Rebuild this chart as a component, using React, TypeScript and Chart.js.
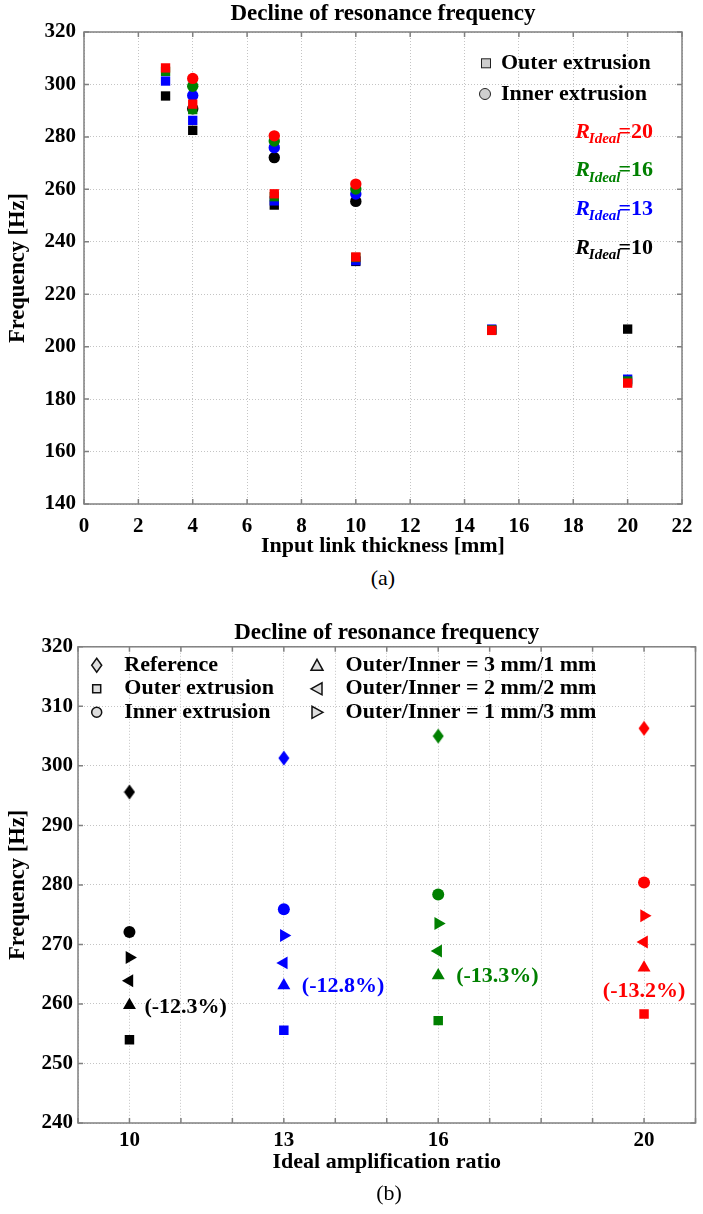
import React, { useEffect, useRef } from 'react';
import { Chart, registerables } from 'chart.js';

Chart.register(...registerables);

const FONT = "'Liberation Serif', 'Times New Roman', Times, serif";
const RED = '#ff0000';
const GREEN = '#008000';
const BLUE = '#0000ff';
const BLACK = '#000000';

// ---------------- (a) data ----------------
const thicknessOuter = [3, 4, 7, 10, 15, 20];
const thicknessInner = [4, 7, 10];
const outerR20 = [306.3, 292.5, 258.3, 234.2, 206.2, 186.1];
const outerR16 = [305.0, 290.4, 257.2, 234.0, 206.4, 186.9];
const outerR13 = [301.3, 286.3, 255.6, 232.8, 206.7, 187.6];
const outerR10 = [295.6, 282.5, 254.0, 232.5, 206.3, 206.7];
const innerR20 = [302.3, 280.4, 262.0];
const innerR16 = [299.3, 278.4, 260.1];
const innerR13 = [295.8, 275.9, 258.2];
const innerR10 = [290.7, 272.1, 255.4];
const ratioLabelsA = ['20', '16', '13', '10'];
const aXMin = 0;
const aXMax = 22;
const aXStep = 2;
const aYMin = 140;
const aYMax = 320;
const aYStep = 20;

// ---------------- (b) data ----------------
const idealRatios = [10, 13, 16, 20];
const xTickLabelsB = [10, 13, 16, 20];
const referenceB = [295.6, 301.3, 305.0, 306.3];
const outerB = [254.0, 255.6, 257.2, 258.3];
const innerB = [272.1, 275.9, 278.4, 280.4];
const oi31B = [259.8, 263.1, 264.8, 266.1];
const oi22B = [263.9, 266.9, 268.9, 270.4];
const oi13B = [267.8, 271.5, 273.5, 274.8];
const declineLabels = ['(-12.3%)', '(-12.8%)', '(-13.3%)', '(-13.2%)'];
const declineLabelLevel = [259.5, 262.9, 264.6, 262.1];
const bXMin = 9;
const bXMax = 21;
const bYMin = 240;
const bYMax = 320;
const bYStep = 10;
const legendB = [
  ['Reference', 'Outer extrusion', 'Inner extrusion'],
  ['Outer/Inner = 3 mm/1 mm', 'Outer/Inner = 2 mm/2 mm', 'Outer/Inner = 1 mm/3 mm'],
];

const colorsA = [RED, GREEN, BLUE, BLACK];
const colorsB = [BLACK, BLUE, GREEN, RED];

const TITLE = 'Decline of resonance frequency';

function font(size: number, weight = 'bold', style = 'normal') {
  return { family: FONT, size, weight, style } as any;
}

function frameTicksPlugin(tl: number) {
  return {
    id: 'frameTicks',
    afterDraw(chart: any) {
      const { ctx, chartArea: a, scales } = chart;
      ctx.save();
      ctx.strokeStyle = '#808080';
      ctx.lineWidth = 1.5;
      ctx.beginPath();
      scales.x.ticks.forEach((t: any) => {
        const px = scales.x.getPixelForValue(t.value);
        ctx.moveTo(px, a.bottom);
        ctx.lineTo(px, a.bottom - tl);
        ctx.moveTo(px, a.top);
        ctx.lineTo(px, a.top + tl);
      });
      scales.y.ticks.forEach((t: any) => {
        const py = scales.y.getPixelForValue(t.value);
        ctx.moveTo(a.left, py);
        ctx.lineTo(a.left + tl, py);
        ctx.moveTo(a.right, py);
        ctx.lineTo(a.right - tl, py);
      });
      ctx.stroke();
      ctx.strokeRect(a.left, a.top, a.right - a.left, a.bottom - a.top);
      ctx.restore();
    },
  };
}

function drawRIdeal(ctx: CanvasRenderingContext2D, rightX: number, y: number, value: string, color: string) {
  const big = `italic bold 22px ${FONT}`;
  const small = `italic bold 15px ${FONT}`;
  const norm = `bold 22px ${FONT}`;
  ctx.font = big;
  const wR = ctx.measureText('R').width;
  ctx.font = small;
  const wI = ctx.measureText('Ideal').width;
  ctx.font = norm;
  const wE = ctx.measureText('=' + value).width;
  let x = rightX - (wR + wI + wE - 3);
  ctx.fillStyle = color;
  ctx.textBaseline = 'middle';
  ctx.textAlign = 'left';
  ctx.font = big;
  ctx.fillText('R', x, y);
  x += wR - 1;
  ctx.font = small;
  ctx.fillText('Ideal', x, y + 7);
  x += wI - 2;
  ctx.font = norm;
  ctx.fillText('=' + value, x, y);
}

const legendAPlugin = {
  id: 'legendA',
  afterDraw(chart: any) {
    const { ctx, chartArea: a } = chart;
    ctx.save();
    const sx = a.right - 196;
    const y1 = a.top + 31.3;
    const y2 = a.top + 62;
    ctx.fillStyle = '#cfcfcf';
    ctx.strokeStyle = '#222';
    ctx.lineWidth = 1;
    ctx.fillRect(sx - 4.5, y1 - 4.5, 9, 9);
    ctx.strokeRect(sx - 4.5, y1 - 4.5, 9, 9);
    ctx.beginPath();
    ctx.arc(sx - 1, y2, 5.5, 0, Math.PI * 2);
    ctx.fill();
    ctx.stroke();
    ctx.fillStyle = '#000';
    ctx.font = `bold 22px ${FONT}`;
    ctx.textBaseline = 'middle';
    ctx.textAlign = 'left';
    ctx.fillText('Outer extrusion', sx + 15, y1);
    ctx.fillText('Inner extrusion', sx + 15, y2);
    ratioLabelsA.forEach((r, i) => {
      drawRIdeal(ctx, a.right - 29, a.top + 100 + i * 38.8, r, colorsA[i]);
    });
    ctx.restore();
  },
};

function legendShape(ctx: CanvasRenderingContext2D, kind: string, x: number, y: number) {
  ctx.beginPath();
  if (kind === 'diamond') {
    ctx.moveTo(x, y - 7);
    ctx.lineTo(x + 5, y);
    ctx.lineTo(x, y + 7);
    ctx.lineTo(x - 5, y);
    ctx.closePath();
  } else if (kind === 'square') {
    ctx.rect(x - 4, y - 4, 8, 8);
  } else if (kind === 'circle') {
    ctx.arc(x, y, 5, 0, Math.PI * 2);
  } else if (kind === 'up') {
    ctx.moveTo(x, y - 6);
    ctx.lineTo(x + 6, y + 5);
    ctx.lineTo(x - 6, y + 5);
    ctx.closePath();
  } else if (kind === 'left') {
    ctx.moveTo(x - 6, y);
    ctx.lineTo(x + 5, y - 6);
    ctx.lineTo(x + 5, y + 6);
    ctx.closePath();
  } else {
    ctx.moveTo(x + 6, y);
    ctx.lineTo(x - 5, y - 6);
    ctx.lineTo(x - 5, y + 6);
    ctx.closePath();
  }
  ctx.fill();
  ctx.stroke();
}

const legendBPlugin = {
  id: 'legendB',
  afterDraw(chart: any) {
    const { ctx, chartArea: a } = chart;
    ctx.save();
    const kinds = [
      ['diamond', 'square', 'circle'],
      ['up', 'left', 'right'],
    ];
    const symX = [a.left + 18.7, a.left + 239];
    const txtX = [a.left + 46.3, a.left + 267.6];
    ctx.font = `bold 22px ${FONT}`;
    ctx.textBaseline = 'middle';
    ctx.textAlign = 'left';
    legendB.forEach((col, c) => {
      col.forEach((text, r) => {
        const y = a.top + 18.5 + r * 23.5;
        ctx.fillStyle = '#dedede';
        ctx.strokeStyle = '#111';
        ctx.lineWidth = 1.5;
        legendShape(ctx, kinds[c][r], symX[c], y);
        ctx.fillStyle = '#000';
        ctx.fillText(text, txtX[c], y);
      });
    });
    ctx.restore();
  },
};

const declinePlugin = {
  id: 'declineLabels',
  afterDatasetsDraw(chart: any) {
    const { ctx, scales } = chart;
    ctx.save();
    ctx.font = `bold 22px ${FONT}`;
    ctx.textBaseline = 'middle';
    declineLabels.forEach((t, i) => {
      const px = scales.x.getPixelForValue(idealRatios[i]);
      const py = scales.y.getPixelForValue(declineLabelLevel[i]);
      ctx.fillStyle = colorsB[i];
      if (i === declineLabels.length - 1) {
        ctx.textAlign = 'center';
        ctx.fillText(t, px, py);
      } else {
        ctx.textAlign = 'left';
        ctx.fillText(t, px + (i === 0 ? 15 : 18), py);
      }
    });
    ctx.restore();
  },
};

function diamondCanvas(color: string) {
  const c = document.createElement('canvas');
  c.width = 12;
  c.height = 16;
  const g = c.getContext('2d')!;
  g.fillStyle = color;
  g.beginPath();
  g.moveTo(6, 0.5);
  g.lineTo(11.5, 8);
  g.lineTo(6, 15.5);
  g.lineTo(0.5, 8);
  g.closePath();
  g.fill();
  return c;
}

const gridCommon = { color: '#c4c4c4', lineWidth: 1, drawTicks: false };
const borderCommon = { display: false, dash: [1, 2] };

function configA(): any {
  const outerSeries = [outerR20, outerR16, outerR13, outerR10];
  const innerSeries = [innerR20, innerR16, innerR13, innerR10];
  const datasets = [
    ...outerSeries.map((vals, i) => ({
      label: 'Outer extrusion R=' + ratioLabelsA[i],
      data: thicknessOuter.map((x, j) => ({ x, y: vals[j] })),
      pointStyle: 'rect',
      pointRadius: 6.6,
      pointBackgroundColor: colorsA[i],
      pointBorderWidth: 0,
      showLine: false,
    })),
    ...innerSeries.map((vals, i) => ({
      label: 'Inner extrusion R=' + ratioLabelsA[i],
      data: thicknessInner.map((x, j) => ({ x, y: vals[j] })),
      pointStyle: 'circle',
      pointRadius: 5.7,
      pointBackgroundColor: colorsA[i],
      pointBorderWidth: 0,
      showLine: false,
    })),
  ];
  return {
    type: 'scatter',
    data: { datasets },
    options: {
      responsive: false,
      animation: false,
      events: [],
      layout: { padding: { left: 0, right: 21, top: 0, bottom: 0 } },
      plugins: {
        legend: { display: false },
        tooltip: { enabled: false },
        title: {
          display: true,
          text: TITLE,
          fullSize: false,
          color: '#000',
          font: font(23),
          padding: { top: 0.2, bottom: 4.2 },
        },
      },
      scales: {
        x: {
          type: 'linear',
          min: aXMin,
          max: aXMax,
          ticks: { stepSize: aXStep, color: '#000', font: font(21), padding: 10 },
          grid: gridCommon,
          border: borderCommon,
          title: {
            display: true,
            text: 'Input link thickness [mm]',
            color: '#000',
            font: font(22),
            padding: { top: 0, bottom: 0.8 },
          },
          afterFit: (s: any) => {
            s.height = 56;
          },
        },
        y: {
          min: aYMin,
          max: aYMax,
          ticks: { stepSize: aYStep, color: '#000', font: font(21), padding: 8 },
          grid: gridCommon,
          border: borderCommon,
          title: {
            display: true,
            text: 'Frequency [Hz]',
            color: '#000',
            font: font(22.5),
            padding: { top: 5, bottom: 0 },
          },
          afterFit: (s: any) => {
            s.width = 84;
          },
        },
      },
    },
    plugins: [frameTicksPlugin(5), legendAPlugin],
  };
}

function configB(): any {
  const pts = (vals: number[]) => idealRatios.map((x, j) => ({ x, y: vals[j] }));
  const base = { pointBackgroundColor: colorsB, pointBorderWidth: 0, showLine: false };
  const datasets = [
    { ...base, label: 'Reference', data: pts(referenceB), pointStyle: colorsB.map(diamondCanvas), pointRadius: 7 },
    { ...base, label: 'Outer extrusion', data: pts(outerB), pointStyle: 'rect', pointRadius: 6.7 },
    { ...base, label: 'Inner extrusion', data: pts(innerB), pointStyle: 'circle', pointRadius: 6 },
    { ...base, label: 'Outer/Inner = 3 mm/1 mm', data: pts(oi31B), pointStyle: 'triangle', pointRadius: 7.5, pointRotation: 0 },
    { ...base, label: 'Outer/Inner = 2 mm/2 mm', data: pts(oi22B), pointStyle: 'triangle', pointRadius: 7.5, pointRotation: -90 },
    { ...base, label: 'Outer/Inner = 1 mm/3 mm', data: pts(oi13B), pointStyle: 'triangle', pointRadius: 7.5, pointRotation: 90 },
  ];
  return {
    type: 'scatter',
    data: { datasets },
    options: {
      responsive: false,
      animation: false,
      events: [],
      layout: { padding: { left: 0, right: 3, top: 0, bottom: 0 } },
      plugins: {
        legend: { display: false },
        tooltip: { enabled: false },
        title: {
          display: true,
          text: TITLE,
          fullSize: false,
          color: '#000',
          font: font(23),
          padding: { top: 29.2, bottom: 0 },
        },
      },
      scales: {
        x: {
          type: 'linear',
          min: bXMin,
          max: bXMax,
          ticks: {
            stepSize: 1,
            color: '#000',
            font: font(21),
            padding: 5,
            autoSkip: false,
            callback: (v: any) => (xTickLabelsB.includes(Number(v)) ? String(v) : ''),
          },
          grid: gridCommon,
          border: borderCommon,
          title: {
            display: true,
            text: 'Ideal amplification ratio',
            color: '#000',
            font: font(22),
            padding: { top: 0, bottom: 38.8 },
          },
          afterFit: (s: any) => {
            s.height = 91;
          },
        },
        y: {
          min: bYMin,
          max: bYMax,
          ticks: { stepSize: bYStep, color: '#000', font: font(21), padding: 5 },
          grid: gridCommon,
          border: borderCommon,
          title: {
            display: true,
            text: 'Frequency [Hz]',
            color: '#000',
            font: font(22.5),
            padding: { top: 5, bottom: 0 },
          },
          afterFit: (s: any) => {
            s.width = 78;
          },
        },
      },
    },
    plugins: [frameTicksPlugin(5), legendBPlugin, declinePlugin],
  };
}

export default function App() {
  const refA = useRef<HTMLCanvasElement>(null);
  const refB = useRef<HTMLCanvasElement>(null);
  useEffect(() => {
    const ca = new Chart(refA.current as HTMLCanvasElement, configA());
    const cb = new Chart(refB.current as HTMLCanvasElement, configB());
    return () => {
      ca.destroy();
      cb.destroy();
    };
  }, []);
  const caption: React.CSSProperties = {
    position: 'absolute',
    width: 100,
    textAlign: 'center',
    fontFamily: FONT,
    fontSize: 22,
    lineHeight: '26px',
    color: '#000',
  };
  return (
    <div style={{ position: 'absolute', left: 0, top: 0, width: 703, height: 1214, background: '#fff' }}>
      <canvas
        ref={refA}
        width={703}
        height={560}
        style={{ position: 'absolute', left: 0, top: 0, width: 703, height: 560 }}
      />
      <div style={{ ...caption, left: 333, top: 565 }}>(a)</div>
      <canvas
        ref={refB}
        width={703}
        height={624}
        style={{ position: 'absolute', left: 0, top: 590, width: 703, height: 624 }}
      />
      <div style={{ ...caption, left: 339, top: 1180 }}>(b)</div>
    </div>
  );
}
